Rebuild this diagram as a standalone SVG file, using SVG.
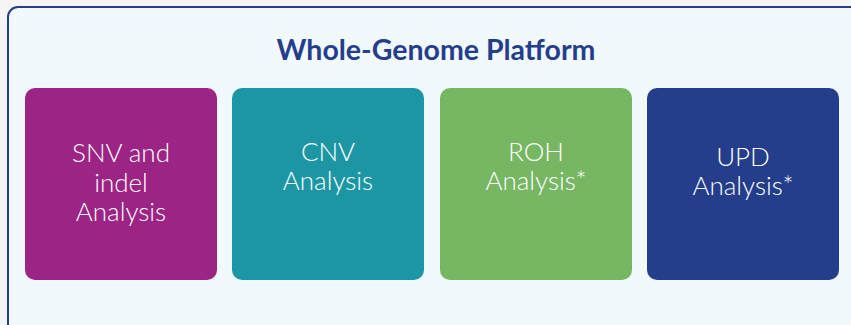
<svg xmlns="http://www.w3.org/2000/svg" width="851" height="325" viewBox="0 0 851 325">
<style>
.box{stroke:none}
.lbl{font-family:Lato,"Noto Sans",sans-serif;font-weight:300;font-size:26px;fill:#ffffff;text-anchor:middle}
.title{font-family:Lato,"Noto Sans",sans-serif;font-weight:700;font-size:28.5px;fill:#243e8b;text-anchor:middle}
</style>
<rect x="0" y="0" width="851" height="325" fill="#f4f5f4"/>
<g id="platform">
<rect x="8" y="7" width="870" height="340" rx="10" fill="#f2f9fd" stroke="#243e8b" stroke-width="2"/>
<text class="title" x="436" y="60">Whole-Genome Platform</text>
</g>
<g id="snv">
<rect class="box" x="25" y="88" width="192" height="192" rx="10" fill="#9c2484"/>
<text class="lbl" x="121" y="162">SNV and</text>
<text class="lbl" x="121" y="192">indel</text>
<text class="lbl" x="121" y="221">Analysis</text>
</g>
<g id="cnv">
<rect class="box" x="232" y="88" width="192" height="192" rx="10" fill="#1d96a4"/>
<text class="lbl" x="328" y="161">CNV</text>
<text class="lbl" x="328" y="190">Analysis</text>
</g>
<g id="roh">
<rect class="box" x="440" y="88" width="192" height="192" rx="10" fill="#77b663"/>
<text class="lbl" x="536" y="161">ROH</text>
<text class="lbl" x="536" y="190">Analysis*</text>
</g>
<g id="upd">
<rect class="box" x="647" y="88" width="192" height="192" rx="10" fill="#243e8b"/>
<text class="lbl" x="743" y="166">UPD</text>
<text class="lbl" x="743" y="195">Analysis*</text>
</g>
<g id="connectors"></g>
</svg>
